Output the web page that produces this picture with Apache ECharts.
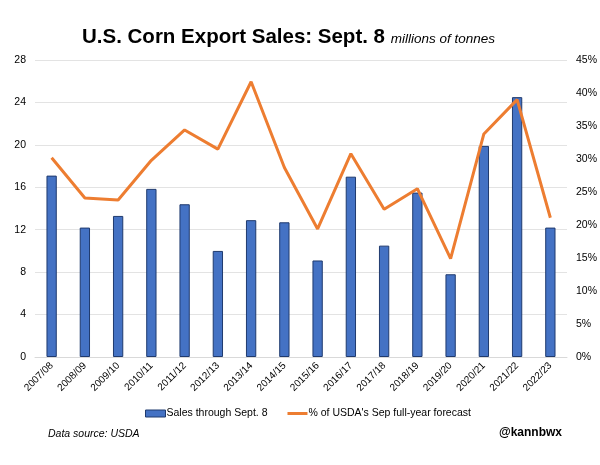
<!DOCTYPE html>
<html>
<head>
<meta charset="utf-8">
<script src="https://cdn.jsdelivr.net/npm/echarts@6/dist/echarts.min.js"></script>
<style>
  html, body { margin: 0; padding: 0; background: #fff; }
  #chart { width: 600px; height: 465px; }
</style>
</head>
<body>
<div id="chart"></div>
<script>
// data
var seasons = ['2007/08', '2008/09', '2009/10', '2010/11', '2011/12', '2012/13', '2013/14', '2014/15',
               '2015/16', '2016/17', '2017/18', '2018/19', '2019/20', '2020/21', '2021/22', '2022/23'];
var salesSept8 = [17.1, 12.2, 13.3, 15.85, 14.4, 10.0, 12.9, 12.7,
                  9.1, 17.0, 10.5, 15.5, 7.8, 19.9, 24.5, 12.2];
var pctOfForecast = [30.2, 24.1, 23.8, 29.8, 34.4, 31.5, 41.7, 28.7,
                     19.4, 30.8, 22.4, 25.5, 14.9, 33.8, 39.0, 21.1];
var leftTicks = [0, 28, 4];   // min, max, step
var rightTicks = [0, 45, 5];

var font = 'Liberation Sans, Arial, sans-serif';

var myChart = echarts.init(document.getElementById('chart'));
var option = {
    backgroundColor: '#fff',
    textStyle: { fontFamily: font },
    title: {
        text: 'U.S. Corn Export Sales: Sept. 8 {sub|millions of tonnes}',
        left: 77,
        top: 22,
        textStyle: {
            fontFamily: font,
            fontSize: 20.5,
            fontWeight: 'bold',
            color: '#000',
            rich: {
                sub: { fontFamily: font, fontSize: 13.5, fontStyle: 'italic', fontWeight: 'normal', color: '#000', padding: [3, 0, 0, 0] }
            }
        }
    },
    legend: {
        top: 403,
        left: 140,
        itemGap: 20,
        itemWidth: 20,
        itemHeight: 7,
        textStyle: { fontFamily: font, fontSize: 10.5, color: '#000', padding: [0, 0, 0, -4] },
        data: [
            { name: 'Sales through Sept. 8', icon: 'rect',
              itemStyle: { color: '#4472c4', borderColor: '#1f3a6e', borderWidth: 1 } },
            { name: "% of USDA's Sep full-year forecast", icon: 'path://M0,0H20V3H0Z',
              itemStyle: { color: '#ed7d31', borderWidth: 0 } }
        ]
    },
    grid: { left: 35, right: 33, top: 60, bottom: 108 },
    xAxis: {
        type: 'category',
        data: seasons,
        axisLine: { lineStyle: { color: '#d9d9d9' } },
        axisTick: { show: false },
        axisLabel: { rotate: 45, interval: 0, fontSize: 10, color: '#000', margin: 7 }
    },
    yAxis: [
        {
            type: 'value',
            min: leftTicks[0], max: leftTicks[1], interval: leftTicks[2],
            axisLine: { show: false },
            axisTick: { show: false },
            axisLabel: { fontSize: 10.5, color: '#000', margin: 9 },
            splitLine: { lineStyle: { color: '#e3e3e3' } }
        },
        {
            type: 'value',
            min: rightTicks[0], max: rightTicks[1], interval: rightTicks[2],
            axisLine: { show: false },
            axisTick: { show: false },
            axisLabel: { fontSize: 10.5, color: '#000', margin: 9, formatter: '{value}%' },
            splitLine: { show: false }
        }
    ],
    series: [
        {
            name: 'Sales through Sept. 8',
            type: 'bar',
            data: salesSept8,
            barWidth: '31%',
            itemStyle: { color: '#4472c4', borderColor: '#1f3a6e', borderWidth: 1 }
        },
        {
            name: "% of USDA's Sep full-year forecast",
            type: 'line',
            yAxisIndex: 1,
            data: pctOfForecast,
            symbol: 'none',
            lineStyle: { color: '#ed7d31', width: 3 },
            itemStyle: { color: '#ed7d31' }
        }
    ],
    graphic: [
        {
            type: 'text', left: 48, top: 429,
            style: { text: 'Data source: USDA', font: 'italic 10.5px ' + font, fill: '#000' }
        },
        {
            type: 'text', right: 38, top: 427,
            style: { text: '@kannbwx', font: 'bold 12px ' + font, fill: '#000' }
        }
    ]
};
myChart.setOption(option);
</script>
</body>
</html>
